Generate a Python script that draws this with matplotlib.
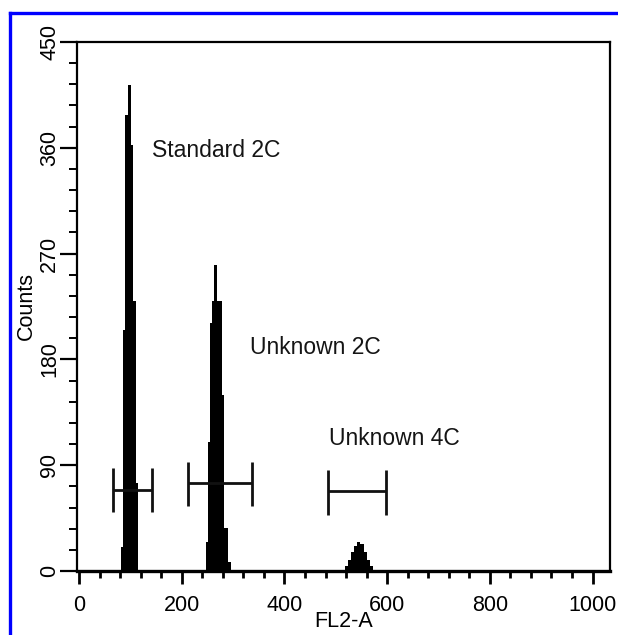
import matplotlib
matplotlib.use("Agg")
import matplotlib.pyplot as plt
from matplotlib.lines import Line2D
import numpy as np

plt.rcParams['font.family'] = ['Liberation Sans', 'DejaVu Sans']
plt.rcParams['hatch.color'] = 'white'
plt.rcParams['hatch.linewidth'] = 0.6

# Histogram data (FL2-A channel bin edges and counts)
std_edges = [82, 86, 90, 95, 101, 105, 111, 115]
std_counts = [20, 205, 388, 413, 362, 230, 75]

unk2_edges = [247, 251, 255, 259, 263, 269, 278, 283, 290, 295]
unk2_counts = [25, 110, 211, 230, 260, 230, 150, 37, 8]

unk4_edges = [518, 524, 530, 536, 542, 548, 554, 560, 566, 572]
unk4_counts = [4, 9, 16, 21, 25, 23, 16, 9, 4]

# Gates (markers)
gate_left = [66, 213, 484]
gate_right = [143, 336, 598]
gate_level = [69, 75, 68]
gate_low = [50, 55, 48]
gate_high = [88, 93, 86]

labels = ["Standard 2C", "Unknown 2C", "Unknown 4C"]
label_x = [143, 333, 486]
label_y = [358, 190, 113]

xticks = [0, 200, 400, 600, 800, 1000]
yticks = [0, 90, 180, 270, 360, 450]

fig = plt.figure(figsize=(6.18, 6.35), dpi=100)
ax = fig.add_axes([77/618, 1-571/635, (610-77)/618, (571-42)/635])

for e, c in [(std_edges, std_counts), (unk2_edges, unk2_counts), (unk4_edges, unk4_counts)]:
    ax.stairs(c, e, fill=True, facecolor='black', edgecolor='black',
              hatch='.', linewidth=0)

for l, r, yv, lo, hi in zip(gate_left, gate_right, gate_level, gate_low, gate_high):
    ax.hlines(yv, l, r, color='#111111', linewidth=2)
    ax.vlines([l, r], lo, hi, color='#111111', linewidth=2)

for t, x, y in zip(labels, label_x, label_y):
    ax.text(x, y, t, fontsize=16.5, ha='left', va='center', color='#151515')

ax.set_xlim(-4, 1034)
ax.set_ylim(0, 450)
ax.set_xticks(xticks)
ax.set_xticklabels([str(v) for v in xticks], fontsize=15.5)
ax.set_xticks(np.arange(0, 1001, 40), minor=True)
ax.set_yticks(yticks)
ax.set_yticklabels([str(v) for v in yticks], fontsize=15.5, rotation=90, va='center')
ax.set_yticks(np.arange(0, 451, 18), minor=True)

ax.tick_params(axis='x', which='major', direction='out', length=9, width=2, pad=8)
ax.tick_params(axis='x', which='minor', direction='out', length=5, width=2)
ax.tick_params(axis='y', which='major', direction='out', length=12, width=1.6, pad=0)
ax.tick_params(axis='y', which='minor', direction='out', length=6, width=1.4)

for s in ['left', 'top', 'right']:
    ax.spines[s].set_linewidth(1.6)
ax.spines['bottom'].set_linewidth(2.4)

ax.set_xlabel("FL2-A", fontsize=15.5, labelpad=-3)
ax.set_ylabel("Counts", fontsize=15.5, labelpad=2)

# blue frame
fig.add_artist(Line2D([10/618, 10/618], [0, 1-13/635], color='#0000ff', linewidth=2.4,
                      transform=fig.transFigure))
fig.add_artist(Line2D([10/618, 1], [1-13/635, 1-13/635], color='#0000ff', linewidth=2.4,
                      transform=fig.transFigure))

fig.savefig("out.png", dpi=100)
